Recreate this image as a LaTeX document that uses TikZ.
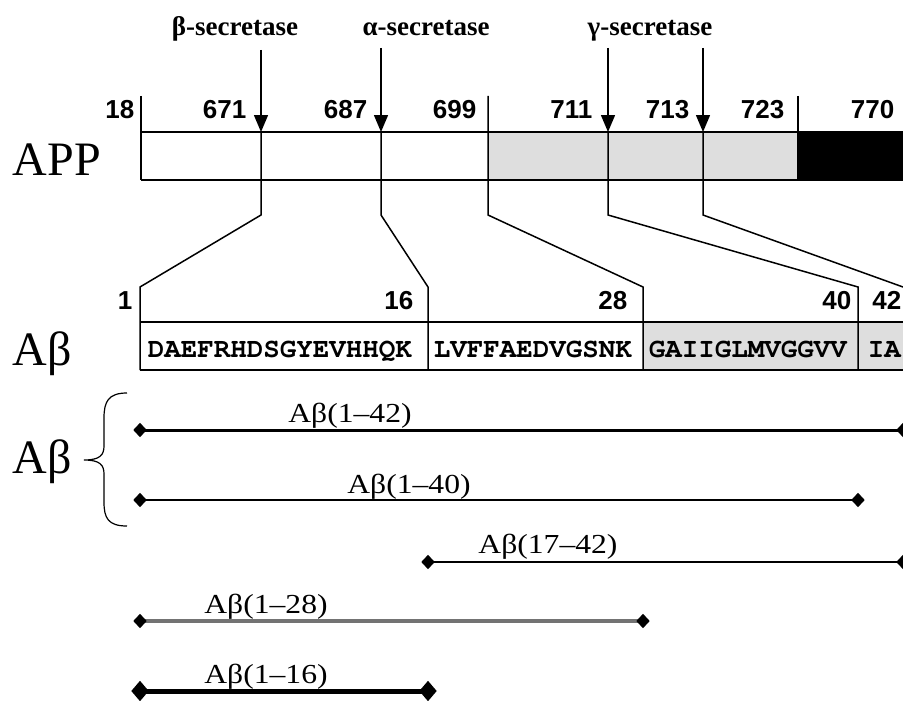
\documentclass[tikz,border=0pt]{standalone}
\usepackage{fontspec}
\setmainfont{Liberation Serif}
\newfontfamily\numfont{Liberation Sans}
\newfontfamily\widefont{Liberation Serif}[FakeStretch=1.15]
\newcommand{\courb}{\fontencoding{T1}\fontfamily{pcr}\fontseries{b}\selectfont}
\usetikzlibrary{arrows.meta,shapes.geometric}
\begin{document}
\begin{tikzpicture}[x=1pt,y=-1pt, line width=1.5pt,
  num/.style={font=\numfont\bfseries\fontsize{26}{26}\selectfont, anchor=base east, inner sep=0},
  enz/.style={font=\bfseries\fontsize{27}{27}\selectfont, anchor=base, inner sep=0},
  seq/.style={font=\courb\fontsize{27.5}{27.5}\selectfont, anchor=base west, inner sep=0},
  big/.style={font=\fontsize{48}{48}\selectfont, anchor=base west, inner sep=0},
  frag/.style={font=\widefont\fontsize{27.5}{27.5}\selectfont, anchor=base, inner sep=0},
  dia/.style={diamond, fill=black, draw=none, inner sep=0, minimum width=14pt, minimum height=15pt},
  diab/.style={dia, minimum width=18pt, minimum height=21pt},
  cut/.style={-{Triangle[width=14pt,length=17pt]}},
  shadefill/.style={fill=black!13}]
\useasboundingbox (0,0) rectangle (903,701);

% ---------- APP bar ----------
\fill[shadefill] (488,132) rectangle (798,180);
\fill[black] (798,132) rectangle (903,180);
\draw (141,132) -- (903,132);
\draw (141,180) -- (903,180);
\draw (141,96) -- (141,180);
\draw (798,96) -- (798,180);
\node[big] (app) at (12,175) {APP};

% numbers above APP
\node[num] (n18)  at (135,118) {18};
\node[num] (n671) at (247,118) {671};
\node[num] (n687) at (368,118) {687};
\node[num] (n699) at (477,118) {699};
\node[num] (n711) at (593,118) {711};
\node[num] (n713) at (690,118) {713};
\node[num] (n723) at (785,118) {723};
\node[num] (n770) at (895,118) {770};

% secretase labels
\node[enz] (bsec) at (235,36) {β-secretase};
\node[enz] (asec) at (426,36) {α-secretase};
\node[enz] (gsec) at (650,36) {γ-secretase};

% cleavage arrows
\coordinate (bt) at (261,50);  \coordinate (bc) at (261,132);
\coordinate (at) at (381,48);  \coordinate (ac) at (381,132);
\coordinate (g1t) at (608,48); \coordinate (g1c) at (608,132);
\coordinate (g2t) at (703,48); \coordinate (g2c) at (703,132);
\draw[cut] (bt) -- (bc);
\draw[cut] (at) -- (ac);
\draw[cut] (g1t) -- (g1c);
\draw[cut] (g2t) -- (g2c);

% ---------- A-beta bar ----------
\fill[shadefill] (643,322) rectangle (903,370);
\draw (140,322) -- (903,322);
\draw (140,370) -- (903,370);
\node[big] (abl) at (12,365) {Aβ};

% expansion connectors
\coordinate (s1) at (140,287);
\coordinate (s16) at (428,287);
\coordinate (s28) at (643,287);
\coordinate (s40) at (858,287);
\coordinate (s42) at (903,287);
\draw (bc) -- (261,215) -- (s1) -- (140,370);
\draw (ac) -- (381,215) -- (s16) -- (428,370);
\draw (488,96) -- (488,215) -- (s28) -- (643,370);
\draw (g1c) -- (608,215) -- (s40) -- (858,370);
\draw (g2c) -- (703,215) -- (s42);

% numbers above A-beta
\node[num] (m1)  at (133,309) {1};
\node[num] (m16) at (414,309) {16};
\node[num] (m28) at (628,309) {28};
\node[num] (m40) at (852,309) {40};
\node[num] (m42) at (902,309) {42};

% sequence
\node[seq] (q1) at (147,357) {DAEFRHDSGYEVHHQK};
\node[seq] (q2) at (433,357) {LVFFAEDVGSNK};
\node[seq] (q3) at (648,357) {GAIIGLMVGGVV};
\node[seq] (q4) at (867,357) {IA};

% ---------- fragments ----------
\node[big] (abf) at (12,473) {Aβ};
\draw[line width=1.2pt] (127,393) .. controls (108,393) and (104,402) .. (104,418) -- (104,446)
  .. controls (104,455) and (100,460) .. (84,460)
  .. controls (100,460) and (104,465) .. (104,474) -- (104,502)
  .. controls (104,518) and (108,526) .. (127,526);

\draw[line width=3pt] (140,430) -- (903,430);
\node[dia] (f1a) at (140,430) {};
\node[dia] (f1b) at (903,430) {};
\node[frag] (l1) at (350,422) {Aβ(1–42)};

\draw[line width=2.6pt] (140,500) -- (858,500);
\node[dia] (f2a) at (140,500) {};
\node[dia] (f2b) at (858,500) {};
\node[frag] (l2) at (409,493) {Aβ(1–40)};

\draw[line width=2.6pt] (428,562) -- (903,562);
\node[dia] (f3a) at (428,562) {};
\node[dia] (f3b) at (903,562) {};
\node[frag] (l3) at (548,553) {Aβ(17–42)};

\draw[line width=3.2pt, black!55] (140,621) -- (643,621);
\node[dia] (f4a) at (140,621) {};
\node[dia] (f4b) at (643,621) {};
\node[frag] (l4) at (266,613) {Aβ(1–28)};

\draw[line width=5pt] (140,691) -- (428,691);
\node[diab] (f5a) at (140,691) {};
\node[diab] (f5b) at (428,691) {};
\node[frag] (l5) at (266,683) {Aβ(1–16)};
\end{tikzpicture}
\end{document}
